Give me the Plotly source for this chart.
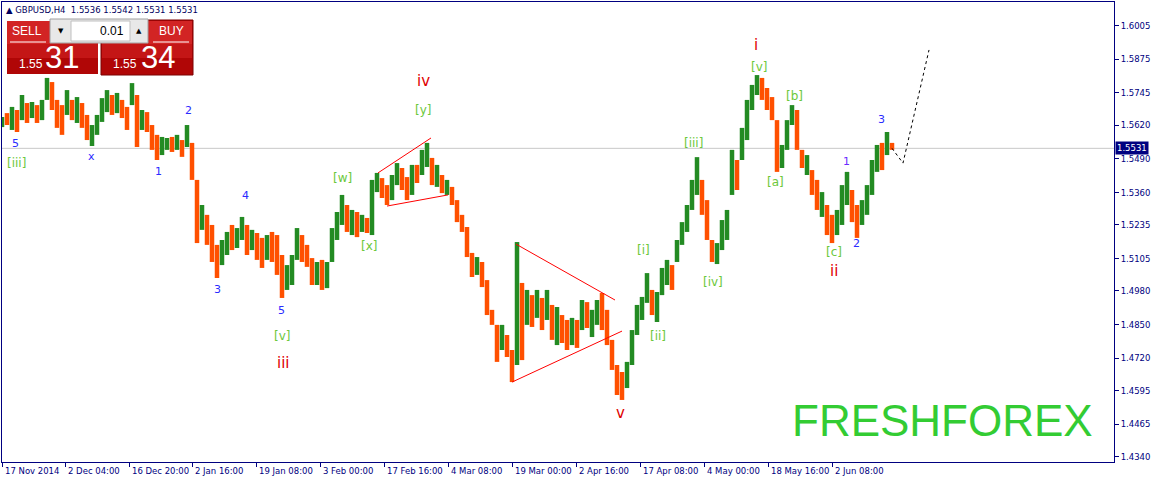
import plotly.graph_objects as go

# ---------------- data ----------------
symbol_header = "GBPUSD,H4  1.5536 1.5542 1.5531 1.5531"
sell_price = ("1.55", "31")
buy_price = ("1.55", "34")
lot_size = "0.01"
last_price = 1.5531

first_bar = 2          # bar index of first (aggregated) candle
bar_step = 5           # each candle below aggregates 5 H4 bars
first_open = 1.5620

highs = [
    1.5652, 1.5667, 1.5691, 1.5679, 1.5737, 1.5706, 1.5710, 1.5698, 1.5718, 1.5803,
    1.5787, 1.5718, 1.5698, 1.5756, 1.5718, 1.5729, 1.5706, 1.5660, 1.5621, 1.5660,
    1.5725, 1.5756, 1.5737, 1.5745, 1.5718, 1.5691, 1.5783, 1.5737, 1.5679, 1.5671,
    1.5621, 1.5583, 1.5575, 1.5571, 1.5575, 1.5583, 1.5563, 1.5621, 1.5552, 1.5409,
    1.5312, 1.5274, 1.5235, 1.5158, 1.5177, 1.5208, 1.5235, 1.5223, 1.5266, 1.5235,
    1.5216, 1.5204, 1.5185, 1.5196, 1.5208, 1.5196, 1.5119, 1.5080, 1.5119, 1.5223,
    1.5196, 1.5158, 1.5107, 1.5092, 1.5100, 1.5092, 1.5223, 1.5285, 1.5351, 1.5312,
    1.5293, 1.5285, 1.5274, 1.5262, 1.5409, 1.5436, 1.5416, 1.5389, 1.5428, 1.5474,
    1.5455, 1.5420, 1.5467, 1.5467, 1.5525, 1.5552, 1.5494, 1.5467, 1.5428, 1.5409,
    1.5382, 1.5331, 1.5274, 1.5227, 1.5127, 1.5111, 1.5092, 1.5022, 1.4907, 1.4849,
    1.4849, 1.4810, 1.4752, 1.5169, 1.5011, 1.4984, 1.4964, 1.4984, 1.4953, 1.4984,
    1.4926, 1.4918, 1.4887, 1.4868, 1.4876, 1.4868, 1.4945, 1.4937, 1.4907, 1.4945,
    1.4972, 1.4907, 1.4791, 1.4694, 1.4667, 1.4706, 1.4829, 1.4926, 1.4957, 1.5049,
    1.4984, 1.4976, 1.5069, 1.5100, 1.5080, 1.5177, 1.5246, 1.5312, 1.5409, 1.5497,
    1.5409, 1.5331, 1.5177, 1.5165, 1.5254, 1.5293, 1.5525, 1.5486, 1.5610, 1.5718,
    1.5776, 1.5814, 1.5803, 1.5764, 1.5729, 1.5640, 1.5544, 1.5640, 1.5698, 1.5679,
    1.5525, 1.5505, 1.5447, 1.5409, 1.5362, 1.5312, 1.5274, 1.5293, 1.5389, 1.5440,
    1.5370, 1.5312, 1.5331, 1.5389, 1.5486, 1.5544, 1.5552, 1.5594, 1.5552,
]
lows = [
    1.5613, 1.5621, 1.5602, 1.5594, 1.5640, 1.5629, 1.5648, 1.5629, 1.5640, 1.5718,
    1.5679, 1.5610, 1.5583, 1.5660, 1.5640, 1.5629, 1.5610, 1.5563, 1.5540, 1.5583,
    1.5633, 1.5671, 1.5660, 1.5667, 1.5648, 1.5602, 1.5698, 1.5536, 1.5602, 1.5594,
    1.5525, 1.5486, 1.5505, 1.5525, 1.5517, 1.5525, 1.5498, 1.5536, 1.5409, 1.5165,
    1.5216, 1.5158, 1.5092, 1.5030, 1.5080, 1.5119, 1.5138, 1.5146, 1.5177, 1.5119,
    1.5138, 1.5100, 1.5069, 1.5100, 1.5092, 1.5042, 1.4953, 1.4984, 1.5003, 1.5100,
    1.5092, 1.5073, 1.5003, 1.5003, 1.4984, 1.4991, 1.5092, 1.5177, 1.5235, 1.5208,
    1.5196, 1.5188, 1.5208, 1.5204, 1.5196, 1.5362, 1.5339, 1.5312, 1.5331, 1.5389,
    1.5370, 1.5331, 1.5351, 1.5397, 1.5428, 1.5459, 1.5389, 1.5382, 1.5358, 1.5351,
    1.5312, 1.5246, 1.5208, 1.5111, 1.5034, 1.5042, 1.4995, 1.4887, 1.4849, 1.4706,
    1.4752, 1.4725, 1.4628, 1.4694, 1.4713, 1.4849, 1.4841, 1.4876, 1.4829, 1.4868,
    1.4791, 1.4771, 1.4779, 1.4752, 1.4771, 1.4760, 1.4829, 1.4837, 1.4802, 1.4849,
    1.4829, 1.4771, 1.4675, 1.4578, 1.4559, 1.4605, 1.4694, 1.4810, 1.4868, 1.4934,
    1.4887, 1.4860, 1.4964, 1.5003, 1.4984, 1.5092, 1.5158, 1.5208, 1.5293, 1.5351,
    1.5274, 1.5177, 1.5092, 1.5084, 1.5138, 1.5177, 1.5351, 1.5370, 1.5486, 1.5563,
    1.5679, 1.5737, 1.5718, 1.5679, 1.5640, 1.5440, 1.5455, 1.5525, 1.5621, 1.5525,
    1.5455, 1.5428, 1.5351, 1.5293, 1.5266, 1.5196, 1.5165, 1.5196, 1.5235, 1.5312,
    1.5246, 1.5185, 1.5235, 1.5274, 1.5351, 1.5440, 1.5447, 1.5505, 1.5525,
]
closes = [
    1.5645, 1.5630, 1.5670, 1.5615, 1.5700, 1.5650, 1.5690, 1.5655, 1.5705, 1.5780,
    1.5700, 1.5640, 1.5620, 1.5720, 1.5665, 1.5700, 1.5630, 1.5580, 1.5605, 1.5645,
    1.5710, 1.5735, 1.5680, 1.5720, 1.5665, 1.5640, 1.5740, 1.5600, 1.5650, 1.5610,
    1.5560, 1.5510, 1.5550, 1.5560, 1.5535, 1.5565, 1.5520, 1.5580, 1.5430, 1.5260,
    1.5290, 1.5190, 1.5120, 1.5070, 1.5150, 1.5190, 1.5160, 1.5200, 1.5240, 1.5150,
    1.5190, 1.5130, 1.5100, 1.5170, 1.5120, 1.5070, 1.5000, 1.5050, 1.5100, 1.5180,
    1.5130, 1.5100, 1.5030, 1.5070, 1.5010, 1.5080, 1.5200, 1.5260, 1.5320, 1.5240,
    1.5270, 1.5220, 1.5255, 1.5215, 1.5390, 1.5410, 1.5360, 1.5340, 1.5410, 1.5450,
    1.5400, 1.5360, 1.5440, 1.5420, 1.5500, 1.5520, 1.5420, 1.5440, 1.5380, 1.5395,
    1.5330, 1.5260, 1.5220, 1.5130, 1.5050, 1.5090, 1.5010, 1.4900, 1.4860, 1.4730,
    1.4820, 1.4740, 1.4650, 1.4950, 1.4780, 1.4950, 1.4870, 1.4960, 1.4860, 1.4950,
    1.4820, 1.4890, 1.4810, 1.4790, 1.4850, 1.4800, 1.4920, 1.4860, 1.4890, 1.4930,
    1.4850, 1.4790, 1.4700, 1.4600, 1.4585, 1.4690, 1.4800, 1.4900, 1.4940, 1.5010,
    1.4910, 1.4950, 1.5040, 1.5080, 1.5020, 1.5160, 1.5230, 1.5290, 1.5390, 1.5420,
    1.5300, 1.5200, 1.5110, 1.5140, 1.5230, 1.5270, 1.5480, 1.5420, 1.5590, 1.5700,
    1.5760, 1.5790, 1.5740, 1.5700, 1.5660, 1.5480, 1.5530, 1.5620, 1.5670, 1.5550,
    1.5470, 1.5490, 1.5380, 1.5320, 1.5340, 1.5220, 1.5200, 1.5270, 1.5360, 1.5400,
    1.5280, 1.5250, 1.5310, 1.5370, 1.5460, 1.5520, 1.5480, 1.5560, 1.5531,
]

# date labels of the time axis and the bar index where each one sits
time_labels = ["17 Nov 2014", "2 Dec 04:00", "16 Dec 20:00", "2 Jan 16:00", "19 Jan 08:00",
               "3 Feb 00:00", "17 Feb 16:00", "4 Mar 08:00", "19 Mar 00:00", "2 Apr 16:00",
               "17 Apr 08:00", "4 May 00:00", "18 May 16:00", "2 Jun 08:00"]
time_label_bars = [2, 65, 129, 192, 256, 320, 384, 448, 512, 576, 640, 704, 768, 832]

price_ticks = [1.6005, 1.5875, 1.5745, 1.5620, 1.5490, 1.5360, 1.5235, 1.5105,
               1.4980, 1.4850, 1.4720, 1.4595, 1.4465, 1.4340]

# trendlines (triangles) and forecast path
tri_iv_upper_bars, tri_iv_upper_prices = [378, 431], [1.5436, 1.5571]
tri_iv_lower_bars, tri_iv_lower_prices = [387, 448], [1.5308, 1.5351]
tri_v_upper_bars, tri_v_upper_prices = [516, 615], [1.5161, 1.4945]
tri_v_lower_bars, tri_v_lower_prices = [512, 622], [1.4628, 1.4825]
forecast_bars = [892, 903, 929]
forecast_prices = [1.5531, 1.5474, 1.5911]

# Elliott wave labels
wave_texts = ["5", "[iii]", "x", "2", "1", "4", "3", "5", "[v]", "iii", "[w]", "[x]", "iv", "[y]",
              "v", "[i]", "[ii]", "[iii]", "[iv]", "i", "[v]", "[b]", "[a]", "1", "[c]", "2", "ii", "3"]
wave_bars = [15, 16, 91, 188, 158, 245, 217, 281, 282, 283, 342, 369, 423, 423,
             620, 643, 658, 693, 713, 756, 759, 794, 775, 846, 834, 856, 834, 881]
wave_prices = [1.5548, 1.5474, 1.5501, 1.5679, 1.5443, 1.5347, 1.4984, 1.4903, 1.4806, 1.4702,
               1.5416, 1.5154, 1.5791, 1.5679, 1.4509, 1.5138, 1.4806, 1.5552, 1.5015, 1.5930,
               1.5845, 1.5733, 1.5401, 1.5482, 1.5131, 1.5165, 1.5057, 1.5644]
wave_degree = ["minor", "minute", "minor", "minor", "minor", "minor", "minor", "minor", "minute",
               "intermediate", "minute", "minute", "intermediate", "minute", "intermediate",
               "minute", "minute", "minute", "minute", "intermediate", "minute", "minute",
               "minute", "minor2", "minute", "minor", "intermediate", "minor"]

# ---------------- styling ----------------
W, H = 1154, 479
ML, MR, MT, MB = 2, 40, 2, 17
NAVY = "#000080"
UP = "#238B23"
DN = "#FF5000"
degree_style = {
    "minor": ("#2B2BFF", 11),
    "minor2": ("#6A2BFF", 11),
    "minute": ("#6CC83C", 12),
    "intermediate": ("#E00000", 15),
}

bars = [first_bar + bar_step * i for i in range(len(highs))]
opens = [first_open] + closes[:-1]

upx, upy, dnx, dny = [], [], [], []
for b, o, h, l, c in zip(bars, opens, highs, lows, closes):
    if c >= o:
        upx += [b, b, None]; upy += [l, h, None]
    else:
        dnx += [b, b, None]; dny += [l, h, None]

fig = go.Figure()
fig.add_trace(go.Scatter(x=upx, y=upy, mode="lines", line=dict(color=UP, width=4.5),
                         hoverinfo="skip", showlegend=False))
fig.add_trace(go.Scatter(x=dnx, y=dny, mode="lines", line=dict(color=DN, width=4.5),
                         hoverinfo="skip", showlegend=False))

# current price line
fig.add_hline(y=last_price, line=dict(color="#C8C8C8", width=1), layer="below")

for bx, py in [(tri_iv_upper_bars, tri_iv_upper_prices), (tri_iv_lower_bars, tri_iv_lower_prices),
               (tri_v_upper_bars, tri_v_upper_prices), (tri_v_lower_bars, tri_v_lower_prices)]:
    fig.add_trace(go.Scatter(x=bx, y=py, mode="lines", line=dict(color="#FF0000", width=1),
                             hoverinfo="skip", showlegend=False))
fig.add_trace(go.Scatter(x=forecast_bars, y=forecast_prices, mode="lines",
                         line=dict(color="#000000", width=1, dash="dot"),
                         hoverinfo="skip", showlegend=False))

annotations = []
for t, b, p, d in zip(wave_texts, wave_bars, wave_prices, wave_degree):
    col, sz = degree_style[d]
    annotations.append(dict(x=b, y=p, xref="x", yref="y", text=t, showarrow=False,
                            xanchor="center", yanchor="middle",
                            font=dict(family="DejaVu Sans", size=sz, color=col)))

# time labels (left-aligned next to tick, MT4 style)
for lab, b in zip(time_labels, time_label_bars):
    annotations.append(dict(x=b, y=0, xref="x", yref="paper", text=lab, showarrow=False,
                            xanchor="left", yanchor="top", xshift=1, yshift=-2,
                            font=dict(family="DejaVu Sans", size=8.5, color=NAVY)))

# current price box on the price scale
annotations.append(dict(x=1, y=last_price, xref="paper", yref="y", text=f"{last_price:.4f}",
                        showarrow=False, xanchor="left", yanchor="middle", xshift=1, bgcolor=NAVY,
                        font=dict(family="DejaVu Sans", size=8.5, color="#FFFFFF"),
                        borderpad=1))


def pxx(x):
    return (x - ML) / (W - ML - MR)


def pxy(y):
    return (H - MB - y) / (H - MT - MB)


# watermark
annotations.append(dict(x=pxx(942), y=pxy(420), xref="paper", yref="paper", text="FRESHFOREX",
                        showarrow=False, xanchor="center", yanchor="middle",
                        font=dict(family="Liberation Sans", size=44, color="#33CC33")))

# header
annotations.append(dict(x=pxx(4), y=pxy(10), xref="paper", yref="paper",
                        text="\u25B2 " + symbol_header, showarrow=False, xanchor="left",
                        yanchor="middle",
                        font=dict(family="DejaVu Sans", size=8.5, color="#000060")))

# one-click trading panel
shapes = []


def rect(x0, y0, x1, y1, fill, line=None, lw=0):
    shapes.append(dict(type="rect", xref="paper", yref="paper",
                       x0=pxx(x0), x1=pxx(x1), y0=pxy(y1), y1=pxy(y0),
                       fillcolor=fill, line=dict(color=line or fill, width=lw), layer="above"))


for x0, x1 in [(6, 99), (101, 193)]:
    rect(x0, 20, x1, 75, "#B30808", "#7A0000", 1)
    rect(x0 + 1, 21, x1 - 1, 44, "#D22424")
    rect(x0 + 1, 44, x1 - 1, 58, "#C41616")
    rect(x0 + 1, 58, x1 - 1, 74, "#B00606")
rect(50, 19, 148, 43, "#E8E8E8", "#A0A0A0", 1)
rect(71, 21, 130, 41, "#FFFFFF", "#C0C0C0", 1)
for ux0, ux1 in [(10, 46), (153, 189)]:
    shapes.append(dict(type="line", xref="paper", yref="paper", x0=pxx(ux0), x1=pxx(ux1),
                       y0=pxy(42), y1=pxy(42), line=dict(color="#FFFFFF", width=1), layer="above"))


def ptext(x, y, t, size, color="#FFFFFF", anchor="center", family="Liberation Sans"):
    annotations.append(dict(x=pxx(x), y=pxy(y), xref="paper", yref="paper", text=t,
                            showarrow=False, xanchor=anchor, yanchor="middle",
                            font=dict(family=family, size=size, color=color)))


ptext(27, 31, "SELL", 12)
ptext(171, 31, "BUY", 12)
ptext(61, 31, "\u25BC", 7, "#000000", family="DejaVu Sans")
ptext(139, 31, "\u25B2", 7, "#000000", family="DejaVu Sans")
ptext(126, 31, lot_size, 12, "#000000", anchor="right")
ptext(31, 64, sell_price[0], 12)
ptext(62, 58, sell_price[1], 31)
ptext(125, 64, buy_price[0], 12)
ptext(158, 58, buy_price[1], 31)

fig.update_layout(
    width=W, height=H,
    margin=dict(l=ML, r=MR, t=MT, b=MB, autoexpand=False),
    paper_bgcolor="#FFFFFF", plot_bgcolor="#FFFFFF",
    showlegend=False, hovermode=False,
    annotations=annotations, shapes=shapes,
    xaxis=dict(range=[ML, W - MR], showgrid=False, zeroline=False, showline=True,
               linecolor=NAVY, linewidth=1, mirror=True, ticks="outside", ticklen=4,
               tickcolor=NAVY, tickvals=time_label_bars, showticklabels=False, fixedrange=True),
    yaxis=dict(range=[1.431929, 1.609627], side="right", showgrid=False, zeroline=False,
               showline=True, linecolor=NAVY, linewidth=1, mirror=True, ticks="outside",
               ticklen=4, tickcolor=NAVY, tickvals=price_ticks,
               ticktext=[f"{v:.4f}" for v in price_ticks],
               tickfont=dict(family="DejaVu Sans", size=8.5, color=NAVY), fixedrange=True),
)

fig.write_html("out.html", config={"displayModeBar": False},
               post_script="document.body.style.margin='0';document.body.style.overflow='hidden';")
